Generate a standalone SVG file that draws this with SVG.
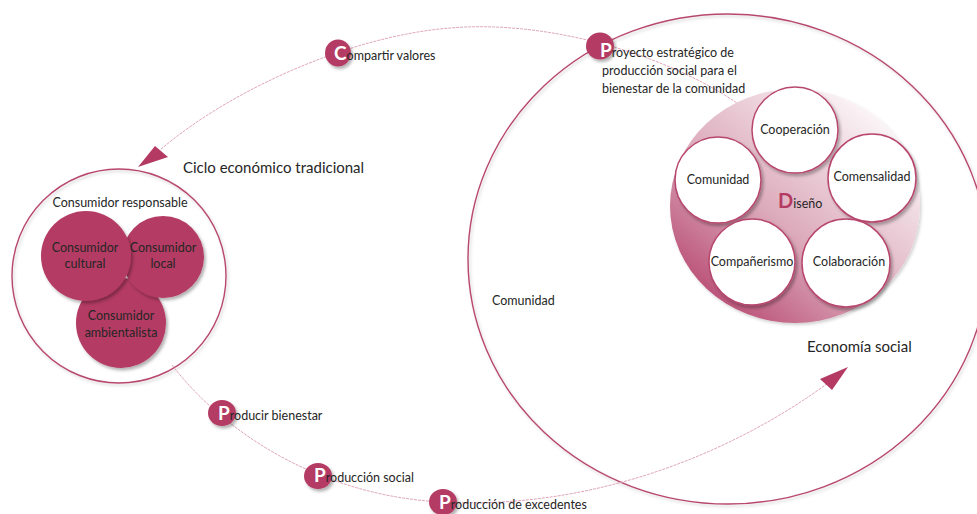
<svg xmlns="http://www.w3.org/2000/svg" width="977" height="514" viewBox="0 0 977 514">
  <defs>
    <filter id="sh" x="-20%" y="-20%" width="150%" height="150%">
      <feDropShadow dx="2" dy="2.5" stdDeviation="1.8" flood-color="#000" flood-opacity="0.3"/>
    </filter>
    <filter id="shl" x="-10%" y="-10%" width="120%" height="120%">
      <feDropShadow dx="1.5" dy="2" stdDeviation="1.5" flood-color="#000" flood-opacity="0.18"/>
    </filter>
    <linearGradient id="dis" x1="0.1" y1="0.95" x2="0.85" y2="0.1">
      <stop offset="0" stop-color="#b4406a"/>
      <stop offset="0.45" stop-color="#dcaabb"/>
      <stop offset="1" stop-color="#fcf8f9"/>
    </linearGradient>
  </defs>
  <style>
    text { font-family: "Lato", "Liberation Sans", sans-serif; fill: #262626; }
    .t12 { font-size: 12.5px; }
    .t14 { font-size: 15px; }
    .mid { text-anchor: middle; }
    .ring { fill: none; stroke: #b8476f; stroke-width: 1.4; filter: url(#shl); }
    .con { fill: #b43a63; filter: url(#sh); }
    .wc { fill: #ffffff; stroke: #b8476f; stroke-width: 1.5; filter: url(#sh); }
    .badge { fill: #b43a63; filter: url(#sh); }
    .big { font-size: 19px; font-weight: bold; fill: #ffffff; }
    .arc { fill: none; stroke: #e0a6b9; stroke-width: 1; stroke-dasharray: 3 1; }
    .head { fill: #b43a63; }
  </style>

  <g id="economia-social">
    <ellipse class="ring" cx="728" cy="259" rx="260" ry="245"/>
    <text class="t14" x="807" y="352">Economía social</text>
    <text class="t12" x="492" y="305">Comunidad</text>
  </g>

  <g id="ciclo-tradicional">
    <circle class="ring" cx="119" cy="276" r="107"/>
    <text class="t14" x="183" y="173">Ciclo económico tradicional</text>
    <text class="t12 mid" x="120" y="207">Consumidor responsable</text>
  </g>

  <g id="connectors">
    <path class="arc" d="M740,105 C660,50 540,20 450,28 C350,36 230,90 160,150"/>
    <polygon class="head" points="138,167 155,146 168,157"/>
    <path class="arc" d="M172,365 C230,440 330,497 443,502 C590,510 730,455 828,383"/>
    <polygon class="head" points="848,367 820,379 832,390"/>
  </g>

  <g id="consumidor-ambientalista">
    <circle class="con" cx="121" cy="323" r="45"/>
    <text class="t12 mid" x="121" y="320">Consumidor</text>
    <text class="t12 mid" x="121" y="337">ambientalista</text>
  </g>
  <g id="consumidor-local">
    <circle class="con" cx="163" cy="257" r="41"/>
    <text class="t12 mid" x="163" y="252">Consumidor</text>
    <text class="t12 mid" x="163" y="268">local</text>
  </g>
  <g id="consumidor-cultural">
    <circle class="con" cx="86" cy="256" r="45"/>
    <text class="t12 mid" x="85" y="252">Consumidor</text>
    <text class="t12 mid" x="85" y="268">cultural</text>
  </g>

  <g id="diseno">
    <ellipse cx="795" cy="206" rx="125" ry="117" fill="url(#dis)" filter="url(#shl)"/>
    <text x="778" y="208" class="t12"><tspan style="font-size:20px;font-weight:bold;fill:#b43a63">D</tspan>iseño</text>
  </g>
  <g id="cooperacion">
    <circle class="wc" cx="795" cy="130" r="43"/>
    <text class="t12 mid" x="795" y="134">Cooperación</text>
  </g>
  <g id="comunidad">
    <circle class="wc" cx="718" cy="180" r="43"/>
    <text class="t12 mid" x="718" y="184">Comunidad</text>
  </g>
  <g id="comensalidad">
    <circle class="wc" cx="872" cy="178" r="44"/>
    <text class="t12 mid" x="872" y="181">Comensalidad</text>
  </g>
  <g id="companerismo">
    <circle class="wc" cx="752" cy="262" r="43"/>
    <text class="t12 mid" x="752" y="266">Compañerismo</text>
  </g>
  <g id="colaboracion">
    <circle class="wc" cx="846" cy="263" r="44"/>
    <text class="t12 mid" x="849" y="266">Colaboración</text>
  </g>

  <g id="compartir-valores">
    <ellipse class="badge" cx="338" cy="53" rx="13" ry="13.5"/>
    <text class="t12" x="334" y="60"><tspan class="big">C</tspan>ompartir valores</text>
  </g>
  <g id="proyecto-estrategico">
    <ellipse class="badge" cx="600" cy="46" rx="14" ry="13.5"/>
    <text class="t12" x="600" y="57"><tspan class="big">P</tspan>royecto estratégico de</text>
    <text class="t12" x="602" y="75">producción social para el</text>
    <text class="t12" x="602" y="93">bienestar de la comunidad</text>
  </g>
  <g id="producir-bienestar">
    <ellipse class="badge" cx="222" cy="413" rx="14" ry="13"/>
    <text class="t12" x="218" y="420"><tspan class="big">P</tspan>roducir bienestar</text>
  </g>
  <g id="produccion-social">
    <ellipse class="badge" cx="318" cy="476" rx="14" ry="13"/>
    <text class="t12" x="314" y="482"><tspan class="big">P</tspan>roducción social</text>
  </g>
  <g id="produccion-excedentes">
    <ellipse class="badge" cx="443" cy="502" rx="14" ry="13"/>
    <text class="t12" x="439" y="509"><tspan class="big">P</tspan>roducción de excedentes</text>
  </g>
</svg>
